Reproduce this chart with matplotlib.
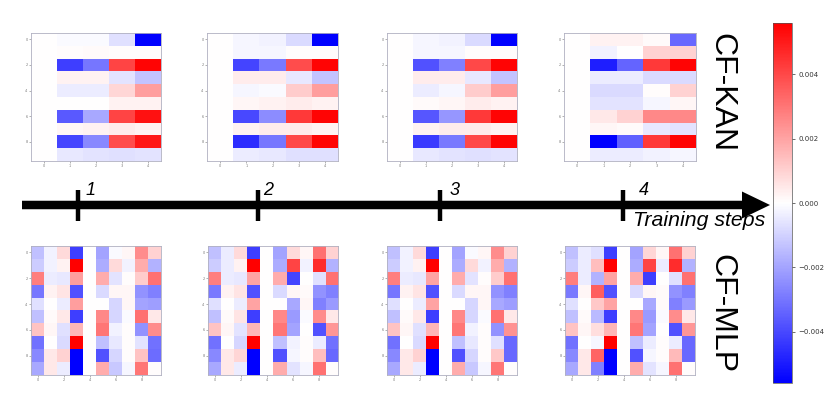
import numpy as np
import matplotlib
matplotlib.use("Agg")
import matplotlib.pyplot as plt
from matplotlib.patches import FancyArrow
from matplotlib.colors import Normalize
from matplotlib.cm import ScalarMappable

# values in units of 1e-3, rows 0..9, columns 0..4
kan_1 = [[0, -0.1, -0.1, -0.7, -5.6],
         [0, 0.05, 0.1, 0.05, 0.05],
         [0, -4.2, -3.0, 4.1, 5.5],
         [0, 0.3, 0.3, -0.6, -1.3],
         [0, -0.4, -0.4, 0.9, 2.1],
         [0, 0.0, 0.0, 0.3, 0.3],
         [0, -3.6, -1.9, 4.1, 5.2],
         [0, 0.2, 0.3, 0.4, 0.3],
         [0, -4.1, -2.6, 3.9, 5.1],
         [0, -0.5, -0.6, -0.7, -0.6]]
kan_2 = [[0, -0.2, -0.3, -0.8, -5.6],
         [0, -0.2, -0.2, 0.05, 0.05],
         [0, -4.1, -2.9, 3.9, 5.5],
         [0, 0.4, 0.4, -0.5, -1.3],
         [0, -0.2, -0.1, 1.1, 2.1],
         [0, 0.2, 0.3, 0.4, 0.3],
         [0, -4.0, -2.5, 4.3, 5.5],
         [0, 0.3, 0.4, 0.4, 0.3],
         [0, -4.6, -3.0, 4.0, 5.5],
         [0, -0.4, -0.5, -0.7, -0.7]]
kan_3 = [[0, -0.2, -0.3, -0.8, -5.6],
         [0, -0.2, -0.2, 0.05, 0.05],
         [0, -3.8, -2.8, 4.0, 5.5],
         [0, 0.4, 0.4, -0.5, -1.3],
         [0, -0.4, -0.2, 1.1, 2.1],
         [0, 0.1, 0.2, 0.4, 0.3],
         [0, -3.7, -2.3, 4.3, 5.5],
         [0, 0.3, 0.4, 0.4, 0.3],
         [0, -4.3, -2.9, 4.0, 5.5],
         [0, -0.5, -0.6, -0.7, -0.6]]
kan_4 = [[0, 0.3, 0.3, 0.1, -3.3],
         [0, -0.3, 0.0, 1.0, 1.0],
         [0, -4.9, -3.4, 4.3, 5.5],
         [0, -0.4, -0.4, -0.8, -0.8],
         [0, -0.8, -0.8, 0.05, 1.0],
         [0, -0.6, -0.6, -0.2, 0.2],
         [0, 0.5, 1.0, 2.6, 2.6],
         [0, 0.2, 0.1, -0.5, -0.6],
         [0, -5.6, -3.5, 4.3, 5.5],
         [0, -0.4, -0.4, -0.3, -0.2]]

# MLP values written column by column (10 columns, each with rows 0..9), units of 1e-3
mlp_1_cols = [[-1.4, -1.1, 2.8, -3.0, -0.7, -1.4, 1.3, -3.1, -2.6, -1.9],
              [-0.3, -0.3, -0.4, 0.3, 0.0, 0.1, 0.2, 0.0, 0.5, 0.5],
              [0.8, 0.3, -0.5, 0.6, -0.4, 0.5, -0.7, -0.8, 1.0, -0.4],
              [-4.2, 5.6, 2.1, -3.8, 2.1, -4.2, 1.6, 5.6, -5.6, -5.6],
              [0, 0, 0, 0, 0, 0, 0, 0, 0, 0],
              [-2.0, -1.8, 1.8, -0.8, 0.0, 2.6, 3.0, -1.4, -3.8, 1.8],
              [-0.1, 0.8, -0.6, 0.2, -0.9, -0.9, -0.3, -0.5, -0.9, -1.2],
              [0.2, -0.3, 0.05, 0.2, 0.2, -0.1, 0.05, 0.05, 0.05, -0.2],
              [2.5, 1.8, 1.1, -2.4, -2.0, 3.1, -2.4, -0.6, 1.3, 3.0],
              [1.0, -1.7, 3.1, -2.8, -2.1, 0.5, 2.5, -3.1, -3.2, 0.05]]
mlp_2_cols = [[-1.4, -1.1, 2.8, -2.9, -0.7, -1.4, 1.3, -3.1, -2.6, -1.9],
              [-0.4, -0.4, -0.4, 0.3, 0.0, 0.1, 0.2, 0.0, 0.5, 0.5],
              [0.8, 0.3, -0.5, 0.6, -0.4, 0.6, -0.6, -0.9, 0.9, -0.4],
              [-4.2, 5.6, 2.0, -3.8, 2.0, -4.2, 1.6, 5.6, -5.6, -5.6],
              [0, 0, 0, 0, 0, 0, 0, 0, 0, 0],
              [-2.0, -1.8, 1.8, -0.8, 0.0, 2.6, 3.0, -1.4, -3.8, 1.8],
              [0.8, 4.1, -4.1, 0.2, -1.9, -2.2, -2.0, -0.3, -0.2, -0.6],
              [0.2, -0.3, 0.0, 0.1, 0.2, -0.1, 0.0, 0.05, 0.05, -0.2],
              [3.1, 4.6, -0.7, -2.4, -2.8, 2.5, -3.8, -0.4, 1.4, 3.1],
              [1.0, -1.7, 3.1, -2.8, -2.2, 0.5, 2.3, -3.1, -3.3, 0.05]]
mlp_3_cols = [[-1.4, -1.1, 2.8, -3.0, -0.7, -1.4, 1.3, -3.1, -2.6, -1.9],
              [-0.3, -0.3, -0.4, 0.3, 0.0, 0.1, 0.2, 0.0, 0.5, 0.5],
              [0.8, 0.3, -0.5, 0.6, -0.4, 0.5, -0.7, -0.8, 1.0, -0.4],
              [-4.2, 5.6, 2.0, -3.8, 2.0, -4.2, 1.6, 5.6, -5.6, -5.6],
              [0, 0, 0, 0, 0, 0, 0, 0, 0, 0],
              [-2.0, -1.8, 1.8, -0.8, 0.0, 2.6, 3.0, -1.4, -3.8, 1.8],
              [-0.1, 0.8, -0.6, 0.2, -0.9, -0.9, -0.3, -0.5, -0.9, -1.2],
              [0.2, -0.3, 0.05, 0.2, 0.2, -0.1, 0.05, 0.05, 0.05, -0.2],
              [2.5, 1.8, 1.1, -2.4, -1.9, 3.1, -2.4, -0.7, 1.2, 3.0],
              [1.0, -1.7, 3.1, -2.8, -2.1, 0.5, 2.4, -3.3, -3.3, 0.05]]
mlp_4_cols = [[-1.4, -1.1, 2.8, -2.9, -0.7, -1.4, 1.3, -3.1, -2.6, -1.9],
              [-0.4, -0.4, -0.4, 0.2, 0.0, 0.1, 0.2, 0.0, 0.5, 0.5],
              [-0.7, 1.4, -1.7, 3.5, 1.2, -1.5, 0.7, -0.2, 3.4, -2.8],
              [-4.2, 5.6, 2.0, -3.8, 2.0, -4.2, 1.6, 5.6, -5.6, -5.6],
              [0, 0, 0, 0, 0, 0, 0, 0, 0, 0],
              [-2.0, -1.8, 1.8, -0.8, 0.0, 2.6, 3.0, -1.4, -3.8, 1.8],
              [0.9, 4.1, -4.2, 0.2, -1.9, -2.2, -2.0, -0.4, -0.2, -0.6],
              [0.2, -0.4, 0.0, 0.1, 0.1, -0.1, 0.0, 0.05, 0.05, -0.2],
              [3.1, 4.6, -0.7, -2.4, -2.8, 2.5, -3.8, -0.4, 1.5, 3.1],
              [1.0, -1.7, 3.1, -2.8, -2.2, 0.5, 2.3, -3.3, -3.3, 0.05]]

step_labels = ["1", "2", "3", "4"]
cbar_ticks = [-0.004, -0.002, 0.0, 0.002, 0.004]
vlim = 0.0056

kan_maps = [np.array(m) * 1e-3 for m in (kan_1, kan_2, kan_3, kan_4)]
mlp_maps = [np.array(m).T * 1e-3 for m in (mlp_1_cols, mlp_2_cols, mlp_3_cols, mlp_4_cols)]

W, H = 831, 408
fig = plt.figure(figsize=(W / 100, H / 100), dpi=100)

# overlay in pixel coordinates for the timeline arrow
over = fig.add_axes([0, 0, 1, 1])
over.set_xlim(0, W)
over.set_ylim(H, 0)
over.axis("off")
over.add_patch(FancyArrow(22, 205, 748, 0, width=8.5, head_width=27, head_length=28,
                          length_includes_head=True, color="black", lw=0))
tick_x = [78, 258, 440, 623]
label_x = [86, 263, 450, 639]
for tx, lx, lab in zip(tick_x, label_x, step_labels):
    over.plot([tx, tx], [190, 221], color="black", lw=3.2, solid_capstyle="butt")
    over.text(lx, 195, lab, fontsize=13, style="italic", family="Liberation Sans",
              ha="left", va="baseline")
over.text(633, 226, "Training steps", fontsize=15.3, style="italic",
          family="Liberation Sans", ha="left", va="baseline")

top_x = [(31, 161), (207, 338), (387, 517), (564, 696)]
bot_x = [(31, 161), (208, 338), (387, 517), (565, 695)]


def heat(data, x0, x1, y0, y1):
    ax = fig.add_axes([x0 / W, 1 - y1 / H, (x1 - x0) / W, (y1 - y0) / H])
    ax.imshow(data, cmap="bwr", vmin=-vlim, vmax=vlim, aspect="auto",
              interpolation="nearest")
    ax.set_yticks([0, 2, 4, 6, 8])
    if data.shape[1] == 5:
        ax.set_xticks(range(5))
    else:
        ax.set_xticks([0, 2, 4, 6, 8])
    ax.tick_params(labelsize=2.5, length=1.5, width=0.4, pad=1,
                   colors="#777777")
    for s in ax.spines.values():
        s.set_color("#b0b0c0")
        s.set_linewidth(0.6)
    return ax


for m, (x0, x1) in zip(kan_maps, top_x):
    heat(m, x0, x1, 33, 161)
for m, (x0, x1) in zip(mlp_maps, bot_x):
    heat(m, x0, x1, 246, 375)

fig.text(721 / W, 1 - 93 / H, "CF-KAN", rotation=-90, fontsize=23,
         family="Liberation Sans", ha="center", va="center")
fig.text(721 / W, 1 - 314 / H, "CF-MLP", rotation=-90, fontsize=23,
         family="Liberation Sans", ha="center", va="center")

cax = fig.add_axes([773 / W, 1 - 383 / H, 19 / W, 360 / H])
sm = ScalarMappable(norm=Normalize(-vlim, vlim), cmap="bwr")
cb = fig.colorbar(sm, cax=cax, ticks=cbar_ticks)
cb.ax.tick_params(labelsize=5, length=2.5, width=0.5, pad=2, colors="#333333")
cb.outline.set_linewidth(0.5)
cb.outline.set_edgecolor("#555555")

fig.savefig("out.png", dpi=100)
